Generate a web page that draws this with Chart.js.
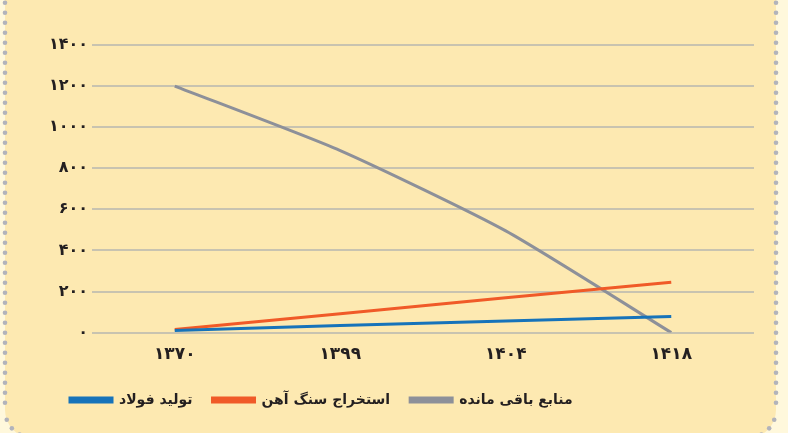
<!DOCTYPE html>
<html>
<head>
<meta charset="utf-8">
<script src="https://cdn.jsdelivr.net/npm/chart.js@4"></script>
<style>
html, body { margin: 0; padding: 0; background: #fff8dc; }
canvas { display: block; }
</style>
</head>
<body>
<canvas id="chart" width="788" height="433"></canvas>
<script>
// data
const years = ['۱۳۷۰', '۱۳۹۹', '۱۴۰۴', '۱۴۱۸'];
const steelProduction = [10, 34, 57, 78];
const ironOreMining = [15, 92, 170, 245];
const remainingReserves = [1200, 886, 495, 0];
const seriesNames = ['تولید فولاد', 'استخراج سنگ آهن', 'منابع باقی مانده'];
const yTickValues = [0, 200, 400, 600, 800, 1000, 1200, 1400];

const faDigits = '۰۱۲۳۴۵۶۷۸۹';
function toFa(n) {
	return String(n).replace(/\d/g, d => faDigits[d]);
}

const fontFamily = "'DejaVu Sans', sans-serif";

// cream panel with dotted edge behind the chart
const panelPlugin = {
	id: 'panel',
	beforeDraw(chart) {
		const ctx = chart.ctx;
		const l = 5, r = 776, b = 438, rad = 28;
		ctx.save();
		ctx.fillStyle = '#fff8dc';
		ctx.fillRect(0, 0, chart.width, chart.height);
		ctx.beginPath();
		ctx.moveTo(l, -10);
		ctx.lineTo(l, b - rad);
		ctx.arcTo(l, b, l + rad, b, rad);
		ctx.lineTo(r - rad, b);
		ctx.arcTo(r, b, r, b - rad, rad);
		ctx.lineTo(r, -10);
		ctx.closePath();
		ctx.fillStyle = '#fde9b1';
		ctx.fill();

		ctx.fillStyle = '#b2b3bb';
		function dot(x, y) {
			ctx.beginPath();
			ctx.arc(x, y, 2.3, 0, Math.PI * 2);
			ctx.fill();
		}
		for (let y = 2.7; y <= b - rad; y += 10) {
			dot(l, y);
			dot(r, y);
		}
		const step = 10 / rad;
		for (let t = step; t <= Math.PI / 2 + 0.01; t += step) {
			dot(l + rad - rad * Math.cos(t), b - rad + rad * Math.sin(t));
			dot(r - rad + rad * Math.cos(t), b - rad + rad * Math.sin(t));
		}
		ctx.restore();
	}
};

const ctx = document.getElementById('chart');
new Chart(ctx, {
	type: 'line',
	data: {
		labels: years,
		datasets: [{
			label: seriesNames[0],
			data: steelProduction,
			borderColor: '#1673ba',
			backgroundColor: '#1673ba',
			borderWidth: 3,
			pointRadius: 0,
			tension: 0
		},
		{
			label: seriesNames[1],
			data: ironOreMining,
			borderColor: '#f05a28',
			backgroundColor: '#f05a28',
			borderWidth: 3,
			pointRadius: 0,
			tension: 0
		},
		{
			label: seriesNames[2],
			data: remainingReserves,
			borderColor: '#8d9099',
			backgroundColor: '#8d9099',
			borderWidth: 3,
			pointRadius: 0,
			tension: 0.2
		}]
	},
	options: {
		responsive: false,
		animation: false,
		layout: {
			padding: { left: 50, right: 34, top: 45, bottom: 16 }
		},
		scales: {
			x: {
				offset: true,
				afterFit: function(scale) { scale.height += 4; },
				grid: { display: false },
				border: { display: false },
				ticks: {
					color: '#231f20',
					padding: 4,
					font: { family: fontFamily, size: 17, weight: 'bold' }
				}
			},
			y: {
				min: 0,
				max: 1400,
				afterFit: function(scale) { scale.width = 42; },
				afterBuildTicks: function(scale) {
					scale.ticks = yTickValues.map(v => ({ value: v }));
				},
				grid: {
					color: '#c8c3b0',
					lineWidth: 2,
					drawTicks: false
				},
				border: { display: false },
				ticks: {
					color: '#231f20',
					padding: 4,
					font: { family: fontFamily, size: 16, weight: 'bold' },
					callback: function(value) { return toFa(value); }
				}
			}
		},
		plugins: {
			tooltip: { enabled: false },
			legend: {
				position: 'bottom',
				align: 'start',
				labels: {
					boxWidth: 42,
					boxHeight: 4,
					padding: 20,
					color: '#231f20',
					font: { family: fontFamily, size: 14, weight: 'bold' }
				}
			}
		}
	},
	plugins: [panelPlugin]
});
</script>
</body>
</html>
